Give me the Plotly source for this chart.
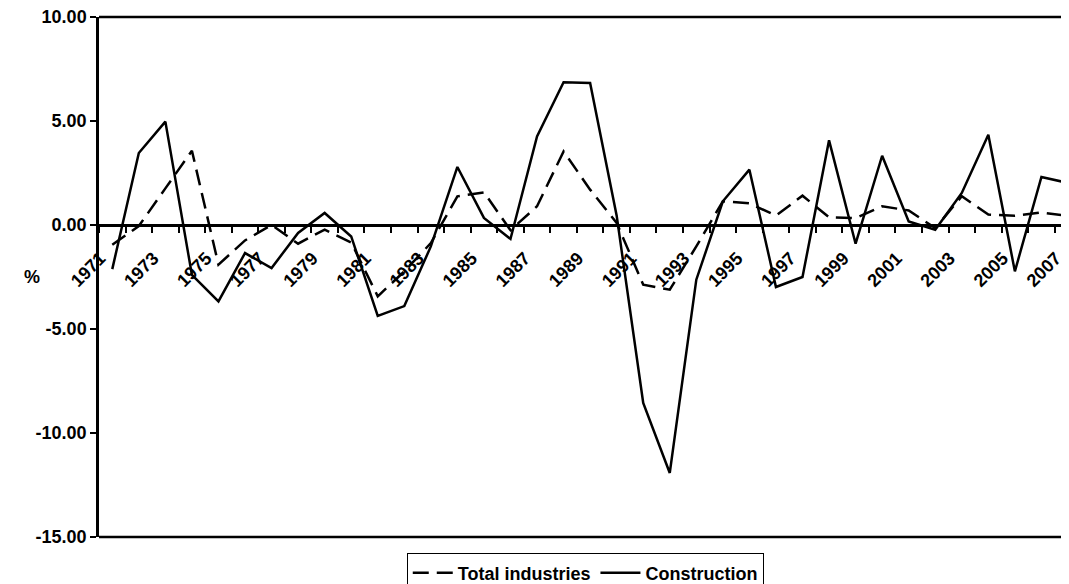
import plotly.graph_objects as go

# annual growth, %
years = [str(y) for y in range(1971, 2008)]
total_industries = [-0.95, -0.05, 1.76, 3.57, -1.91, -0.74, 0.0, -0.9, -0.22, -0.84,
                    -3.43, -2.23, -0.87, 1.38, 1.57, -0.25, 0.9, 3.54, 1.7, 0.1,
                    -2.87, -3.11, -1.03, 1.14, 1.04, 0.45, 1.41, 0.37, 0.33, 0.9,
                    0.7, -0.15, 1.38, 0.5, 0.44, 0.6, 0.44]
construction = [-2.12, 3.46, 4.97, -2.4, -3.67, -1.35, -2.07, -0.38, 0.58, -0.55,
                -4.37, -3.9, -1.03, 2.79, 0.34, -0.67, 4.26, 6.86, 6.83, 0.45,
                -8.56, -11.92, -2.63, 1.14, 2.66, -2.98, -2.5, 4.07, -0.9, 3.33,
                0.17, -0.23, 1.54, 4.34, -2.23, 2.31, 2.02]
tick_text = [y if int(y) % 2 == 1 else "" for y in years]
y_ticks = [-15, -10, -5, 0, 5, 10]
y_tick_text = ["-15.00", "-10.00", "-5.00", "0.00", "5.00", "10.00"]

bold = dict(family="Liberation Sans, Arial", size=18, color="black", weight="bold")

fig = go.Figure()
fig.add_trace(go.Scatter(x=years, y=total_industries, name="Total industries", mode="lines",
                         line=dict(color="black", width=2.5, dash="16px,8px")))
fig.add_trace(go.Scatter(x=years, y=construction, name="Construction", mode="lines",
                         line=dict(color="black", width=2.5)))

# page body has an 8px margin, so the plot is laid out a bit up/left and runs past the right edge
fig.update_layout(
    width=1069, height=584,
    margin=dict(l=91, r=0, t=9, b=55, autoexpand=False),
    plot_bgcolor="white", paper_bgcolor="white",
    font=bold,
    showlegend=True,
    legend=dict(orientation="h", xref="container", yref="container", x=0.54, y=0.066,
                xanchor="center", yanchor="top", bordercolor="black", borderwidth=1,
                bgcolor="white", font=bold, tracegroupgap=0, itemwidth=40),
    xaxis=dict(type="category", range=[-0.5, 36.34], anchor="free", position=0.6,
               automargin=False,
               showline=True, linecolor="black", linewidth=2.5, showgrid=False,
               tickmode="array", tickvals=years, ticktext=tick_text, tickson="boundaries",
               ticks="outside", ticklen=6, tickwidth=2, tickcolor="black", tickangle=-45,
               ticklabelstandoff=14, ticklabelshift=-12, ticklabeloverflow="allow",
               tickfont=bold),
    yaxis=dict(range=[-15, 10], tickmode="array", tickvals=y_ticks, ticktext=y_tick_text,
               showline=True, linecolor="black",
               automargin=False, ticklabeloverflow="allow",
               linewidth=2.5, showgrid=False, zeroline=False, ticks="outside", ticklen=6,
               tickwidth=2, tickcolor="black", tickfont=bold),
)

# plot frame: bottom and top edges
fig.add_shape(type="line", xref="paper", yref="paper", x0=0, x1=1, y0=0, y1=0,
              line=dict(color="black", width=2.5))
fig.add_shape(type="line", xref="paper", yref="paper", x0=0, x1=1, y0=1, y1=1,
              line=dict(color="black", width=2.5))

fig.add_annotation(text="%", xref="paper", yref="paper", x=-0.0787, y=0.5, showarrow=False,
                   font=bold)

fig.write_html("out.html")
